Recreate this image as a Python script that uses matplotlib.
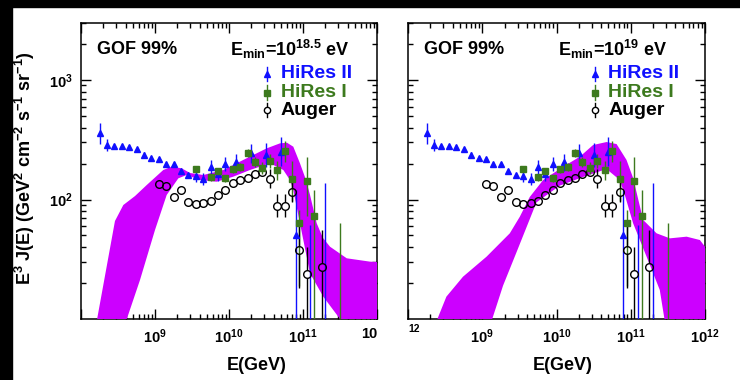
import numpy as np
import matplotlib
matplotlib.use('Agg')
import matplotlib.pyplot as plt
from matplotlib.patches import Rectangle
from matplotlib.ticker import LogLocator, NullFormatter

plt.rcParams['font.family'] = ['Liberation Sans', 'DejaVu Sans']
plt.rcParams['font.weight'] = 'bold'
plt.rcParams['mathtext.default'] = 'regular'

# spectra: log10(E / GeV) and E^3 J(E) in GeV^2 cm^-2 s^-1 sr^-1
hires2_logE = [8.25, 8.35, 8.45, 8.55, 8.65, 8.75, 8.85, 8.95, 9.05, 9.15, 9.25, 9.35, 9.45,
               9.55, 9.65, 9.75, 9.85, 9.95, 10.1, 10.3, 10.5, 10.7, 10.9, 11.1, 11.3]
hires2_flux = [358, 286, 281, 280, 274, 263, 238, 222, 219, 198, 198, 173, 160,
               157, 149, 187, 162, 198, 206, 244, 235, 251, 50, 3, 3]
hires2_err_lo = [66, 31, 12, 12, 11, 10, 10, 9, 8, 8, 7, 7, 7,
                 18, 17, 25, 20, 26, 32, 42, 48, 60, 49.9, 0, 0]
hires2_err_hi = [82, 35, 12, 12, 11, 10, 10, 9, 8, 8, 7, 7, 7,
                 18, 17, 27, 22, 28, 35, 50, 60, 80, 70, 58, 135]

hires1_logE = [9.55, 9.75, 9.85, 9.95, 10.05, 10.15, 10.25, 10.35, 10.45, 10.55, 10.65,
               10.75, 10.85, 10.95, 11.05, 11.15, 11.5]
hires1_flux = [179, 154, 174, 150, 179, 188, 247, 206, 185, 211, 177, 256, 148, 63, 143, 73, 3]
hires1_err_lo = [10, 10, 10, 10, 12, 14, 20, 20, 22, 28, 32, 50, 50, 44, 70, 72, 0]
hires1_err_hi = [10, 10, 10, 10, 12, 14, 20, 20, 22, 30, 35, 55, 60, 19, 85, 47, 60]

auger_logE = [9.05, 9.15, 9.25, 9.35, 9.45, 9.55, 9.65, 9.75, 9.85, 9.95, 10.05, 10.15,
              10.25, 10.35, 10.45, 10.55, 10.65, 10.75, 10.85, 10.95, 11.05, 11.25]
auger_flux = [135, 130, 105, 119, 95, 92, 93, 98, 109, 120, 137, 146,
              150, 163, 170, 149, 89, 89, 116, 38, 24, 27]
auger_err_lo = [3, 3, 3, 3, 2, 2, 2, 2, 3, 3, 4, 5, 6, 8, 10, 25, 18, 18, 20, 20, 23.9, 26.9]
auger_err_hi = [3, 3, 3, 3, 2, 2, 2, 2, 3, 3, 4, 5, 6, 8, 10, 30, 23, 23, 25, 26, 16, 29]

# model bands (log10 E, log10 flux) for the two E_min fits
band185_up_logE = [8.146, 8.212, 8.459, 8.572, 8.730, 8.888, 9.112, 9.226, 9.361, 9.473, 9.653,
                   9.923, 10.193, 10.509, 10.689, 10.784, 10.869, 10.959, 11.041, 11.095,
                   11.185, 11.270, 11.365, 11.591, 11.905, 12.0]
band185_up_logF = [0.76, 0.98, 1.820, 1.954, 2.029, 2.121, 2.247, 2.275, 2.261, 2.222, 2.205,
                   2.247, 2.331, 2.428, 2.470, 2.475, 2.442, 2.303, 2.163, 2.038,
                   1.801, 1.678, 1.605, 1.508, 1.480, 1.477]
band185_lo_logE = [8.486, 8.608, 8.797, 9.000, 9.158, 9.315, 9.428, 9.608, 9.834, 10.058, 10.284,
                   10.554, 10.734, 10.824, 10.869, 10.959, 11.095, 11.274, 11.5, 11.77, 12.0]
band185_lo_logF = [0.76, 0.98, 1.326, 1.745, 2.038, 2.177, 2.205, 2.163, 2.149, 2.191, 2.247,
                   2.303, 2.247, 2.163, 2.080, 1.801, 1.382, 1.187, 1.0, 0.78, 0.66]

band19_up_logE = [8.346, 8.383, 8.517, 8.741, 9.057, 9.371, 9.506, 9.640, 9.820, 10.089, 10.314,
                  10.493, 10.674, 10.809, 10.943, 11.032, 11.167, 11.348, 11.527, 11.752,
                  11.931, 12.0]
band19_up_logF = [0.76, 0.98, 1.187, 1.354, 1.521, 1.717, 1.856, 2.021, 2.163, 2.274, 2.358,
                  2.456, 2.481, 2.464, 2.331, 2.180, 1.829, 1.717, 1.675, 1.689,
                  1.661, 1.605]
band19_lo_logE = [9.011, 9.124, 9.280, 9.461, 9.640, 9.730, 10.044, 10.404, 10.674, 10.853,
                  10.920, 11.032, 11.213, 11.391, 11.459, 11.5, 12.0]
band19_lo_logF = [0.76, 0.98, 1.279, 1.558, 1.836, 1.976, 2.116, 2.199, 2.255, 2.163,
                  2.038, 1.801, 1.522, 1.243, 0.98, 0.76, 0.76]

panels = [
    ('18.5', band185_up_logE, band185_up_logF, band185_lo_logE, band185_lo_logF),
    ('19', band19_up_logE, band19_up_logF, band19_lo_logE, band19_lo_logF),
]

BLUE = '#1010ff'
GREEN = '#3d7a1e'
BAND = '#cc00ff'

W, H = 740, 380
fig = plt.figure(figsize=(W / 100, H / 100), dpi=100)
fig.patch.set_facecolor('white')

# black margins along the top and left
fig.add_artist(Rectangle((0, 1 - 7 / H), 1, 7 / H, transform=fig.transFigure,
                         color='black', zorder=10))
fig.add_artist(Rectangle((0, 0), 12 / W, 1, transform=fig.transFigure,
                         color='black', zorder=10))

axes_px = [(81, 296), (408, 297)]
for i, (emin, ue, uf, le, lf) in enumerate(panels):
    x0, w = axes_px[i]
    ax = fig.add_axes([x0 / W, (H - 319) / H, w / W, 296 / H])
    ax.set_xscale('log')
    ax.set_yscale('log')
    ax.set_xlim(1e8, 1e12)
    ax.set_ylim(10, 3000)

    # fit band
    poly_x = np.concatenate([10 ** np.array(ue), 10 ** np.array(le)[::-1]])
    poly_y = np.concatenate([10 ** np.array(uf), 10 ** np.array(lf)[::-1]])
    ax.fill(poly_x, poly_y, color=BAND, lw=0, zorder=2.6)

    # HiRes II
    ax.errorbar(10 ** np.array(hires2_logE), hires2_flux,
                yerr=[hires2_err_lo, hires2_err_hi], fmt='^', color=BLUE,
                ms=4.5, elinewidth=1, capsize=0, zorder=4)
    # HiRes I
    ax.errorbar(10 ** np.array(hires1_logE), hires1_flux,
                yerr=[hires1_err_lo, hires1_err_hi], fmt='s', color=GREEN,
                ms=5, elinewidth=1, capsize=0, zorder=4)
    # Auger: open circles, error bars stop at the marker edge
    aE = 10 ** np.array(auger_logE)
    aF = np.array(auger_flux, dtype=float)
    gap = 10 ** (4.0 / 119.5)
    hi = aF + np.array(auger_err_hi)
    lo = aF - np.array(auger_err_lo)
    m = hi > aF * gap
    ax.vlines(aE[m], (aF * gap)[m], hi[m], color='black', lw=1, zorder=4)
    m = lo < aF / gap
    ax.vlines(aE[m], np.maximum(lo, 1)[m], (aF / gap)[m], color='black', lw=1, zorder=4)
    ax.plot(aE, aF, 'o', mfc='none', mec='black', mew=1, ms=5.5, zorder=4)

    for s in ax.spines.values():
        s.set_linewidth(1.1)
        s.set_zorder(2.5)

    ax.tick_params(which='both', direction='in', top=True, right=True, width=1)
    ax.tick_params(which='major', length=7.5, labelsize=10.5, pad=6)
    ax.tick_params(which='minor', length=3.8)
    ax.xaxis.set_minor_locator(LogLocator(base=10, subs=np.arange(2, 10), numticks=20))
    ax.yaxis.set_minor_locator(LogLocator(base=10, subs=np.arange(2, 10), numticks=20))
    ax.xaxis.set_minor_formatter(NullFormatter())
    ax.yaxis.set_minor_formatter(NullFormatter())

    last = '10' if i == 0 else r'$10^{12}$'
    ax.set_xticks([1e8, 1e9, 1e10, 1e11, 1e12],
                  labels=['', r'$10^{9}$', r'$10^{10}$', r'$10^{11}$', last])
    if i == 0:
        ax.set_yticks([1e2, 1e3], labels=[r'$10^{2}$', r'$10^{3}$'])
        ax.get_xticklabels()[-1].set_ha('right')
    else:
        ax.set_yticks([1e2, 1e3], labels=['', ''])

    ax.text(0.054, 0.912, 'GOF 99%', transform=ax.transAxes, va='center', fontsize=13)
    ax.text(0.505, 0.912, r'E$_{min}$=10$^{%s}$ eV' % emin, transform=ax.transAxes,
            va='center', fontsize=13)

    # legend
    lx, tx = 0.628, 0.675
    rows = [(0.828, '^', BLUE, BLUE, 'HiRes II'),
            (0.764, 's', GREEN, GREEN, 'HiRes I'),
            (0.706, 'o', 'none', 'black', 'Auger')]
    for ly, mk, fc, ec, name in rows:
        ax.plot([lx, lx], [ly - 0.025, ly + 0.025], color=ec, lw=1,
                transform=ax.transAxes, zorder=4)
        ax.plot(lx, ly, mk, mfc=fc if fc != 'none' else 'white', mec=ec, mew=1,
                ms=4.5, transform=ax.transAxes, zorder=5)
        ax.text(tx, ly, name, color=ec, transform=ax.transAxes, va='center', fontsize=14)

    fig.text((257 if i == 0 else 563) / W, (H - 366) / H, 'E(GeV)',
             ha='center', va='center', fontsize=13)

fig.text(414 / W, (H - 329) / H, '12', ha='center', va='center', fontsize=7.5)
fig.text(25 / W, (H - 168) / H,
         r'E$^{3}$ J(E) (GeV$^{2}$ cm$^{-2}$ s$^{-1}$ sr$^{-1}$)',
         rotation=90, ha='center', va='center', fontsize=13)

fig.savefig('out.png', dpi=100, facecolor='white')
